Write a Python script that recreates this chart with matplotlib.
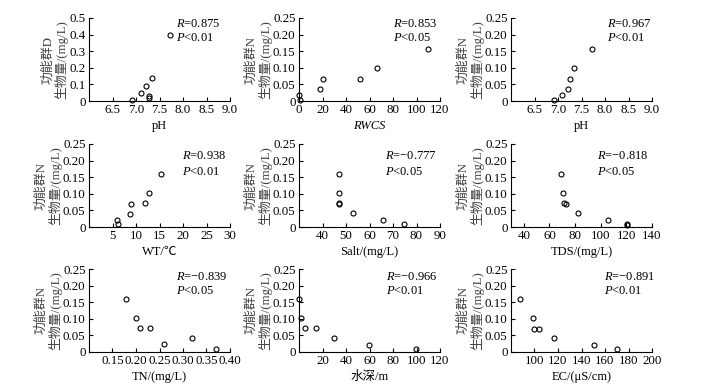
import matplotlib
matplotlib.use("Agg")
import matplotlib.pyplot as plt
from matplotlib.ticker import FixedLocator, FixedFormatter

plt.rcParams['font.family'] = ['Liberation Serif', 'Noto Sans CJK SC']
plt.rcParams['mathtext.fontset'] = 'custom'
plt.rcParams['mathtext.it'] = 'Liberation Serif:italic'
plt.rcParams['mathtext.rm'] = 'Liberation Serif'

# ---- data ----
ph_d_x = [6.91, 7.10, 7.21, 7.27, 7.27, 7.33, 7.72]
ph_d_y = [0.004, 0.049, 0.093, 0.028, 0.020, 0.136, 0.400]

rwcs_x = [0.0, 0.5, 18.2, 20.5, 52.3, 66.0, 110.0]
rwcs_y = [0.018, 0.004, 0.037, 0.065, 0.066, 0.098, 0.156]

ph_n_x = [6.92, 7.09, 7.21, 7.26, 7.34, 7.72]
ph_n_y = [0.004, 0.019, 0.037, 0.065, 0.098, 0.156]

wt_x = [5.9, 6.1, 8.8, 9.0, 11.9, 12.7, 15.3]
wt_y = [0.022, 0.008, 0.040, 0.069, 0.071, 0.103, 0.160]

salt_x = [47.1, 47.1, 47.0, 47.2, 52.8, 65.9, 74.7]
salt_y = [0.160, 0.103, 0.071, 0.069, 0.041, 0.022, 0.008]

tds_x = [69.1, 70.6, 71.2, 73.2, 82.4, 105.4, 120.6, 120.6]
tds_y = [0.160, 0.103, 0.071, 0.068, 0.041, 0.022, 0.008, 0.005]

tn_x = [0.179, 0.199, 0.209, 0.229, 0.259, 0.320, 0.370]
tn_y = [0.160, 0.103, 0.071, 0.071, 0.023, 0.042, 0.008]

depth_x = [0.0, 2.0, 4.9, 14.6, 29.7, 59.7, 99.7]
depth_y = [0.160, 0.103, 0.071, 0.071, 0.042, 0.022, 0.008]

ec_x = [87.8, 98.9, 100.0, 103.7, 116.7, 150.4, 170.0]
ec_y = [0.160, 0.103, 0.069, 0.069, 0.042, 0.022, 0.008]

r_texts = ["0.875", "0.853", "0.967", "0.938", "\u22120.777", "\u22120.818",
           "\u22120.839", "\u22120.966", "\u22120.891"]
p_texts = ["0.01", "0.05", "0.01", "0.01", "0.05", "0.05", "0.05", "0.01", "0.01"]
xlabels = ["pH", "RWCS", "pH", "WT/\u2103", "Salt/(mg/L)", "TDS/(mg/L)",
           "TN/(mg/L)", "\u6c34\u6df1/m", "EC/(\u03bcS/cm)"]
groups = ["D", "N", "N", "N", "N", "N", "N", "N", "N"]

xticks = [
    [6.5, 7.0, 7.5, 8.0, 8.5, 9.0],
    [0, 20, 40, 60, 80, 100, 120],
    [6.5, 7.0, 7.5, 8.0, 8.5, 9.0],
    [5, 10, 15, 20, 25, 30],
    [40, 50, 60, 70, 80, 90],
    [40, 60, 80, 100, 120, 140],
    [0.15, 0.20, 0.25, 0.30, 0.35, 0.40],
    [20, 40, 60, 80, 100, 120],
    [100, 120, 140, 160, 180, 200],
]
xticklabels = [
    ["6.5", "7.0", "7.5", "8.0", "8.5", "9.0"],
    ["0", "20", "40", "60", "80", "100", "120"],
    ["6.5", "7.0", "7.5", "8.0", "8.5", "9.0"],
    ["5", "10", "15", "20", "25", "30"],
    ["40", "50", "60", "70", "80", "90"],
    ["40", "60", "80", "100", "120", "140"],
    ["0.15", "0.20", "0.25", "0.30", "0.35", "0.40"],
    ["20", "40", "60", "80", "100", "120"],
    ["100", "120", "140", "160", "180", "200"],
]
xlims = [(6.0, 9.0), (0, 120), (6.0, 9.0), (0, 30), (30, 90), (30, 140),
         (0.10, 0.40), (0, 120), (80, 200)]

yticks_a = [0, 0.1, 0.2, 0.3, 0.4, 0.5]
yticklabels_a = ["0", "0.1", "0.2", "0.3", "0.4", "0.5"]
yticks_b = [0, 0.05, 0.10, 0.15, 0.20, 0.25]
yticklabels_b = ["0", "0.05", "0.10", "0.15", "0.20", "0.25"]

xs = [ph_d_x, rwcs_x, ph_n_x, wt_x, salt_x, tds_x, tn_x, depth_x, ec_x]
ys = [ph_d_y, rwcs_y, ph_n_y, wt_y, salt_y, tds_y, tn_y, depth_y, ec_y]

# ---- layout ----
W, H = 726, 389
fig = plt.figure(figsize=(W / 100, H / 100), dpi=100)
col_left = [89, 299, 511]
row_top = [18, 144, 269]
aw, ah = 141, 83
text_x = [0.62, 0.67, 0.68, 0.66, 0.61, 0.61, 0.62, 0.62, 0.66]
r_y = [0.93, 0.93, 0.93, 0.855, 0.855, 0.855, 0.90, 0.90, 0.90]
p_y = [0.76, 0.76, 0.76, 0.66, 0.66, 0.66, 0.735, 0.735, 0.735]

tfs = 9.3
for i in range(9):
    r, c = divmod(i, 3)
    ax = fig.add_axes([col_left[c] / W, 1 - (row_top[r] + ah) / H, aw / W, ah / H])
    ax.plot(xs[i], ys[i], 'o', mfc='none', mec='black', ms=3.6, mew=0.8,
            clip_on=False)
    ax.set_xlim(*xlims[i])
    if i == 0:
        ax.set_ylim(0, 0.5)
        ax.yaxis.set_major_locator(FixedLocator(yticks_a))
        ax.yaxis.set_major_formatter(FixedFormatter(yticklabels_a))
    else:
        ax.set_ylim(0, 0.25)
        ax.yaxis.set_major_locator(FixedLocator(yticks_b))
        ax.yaxis.set_major_formatter(FixedFormatter(yticklabels_b))
    ax.xaxis.set_major_locator(FixedLocator(xticks[i]))
    ax.xaxis.set_major_formatter(FixedFormatter(xticklabels[i]))
    for s in ['top', 'right']:
        ax.spines[s].set_visible(False)
    for s in ['left', 'bottom']:
        ax.spines[s].set_linewidth(0.8)
    ax.tick_params(direction='in', length=3, width=0.8, labelsize=tfs, pad=2.5,
                   colors='black')
    if i == 1:
        ax.set_xlabel(xlabels[i], fontsize=9, style='italic', labelpad=2.5)
    else:
        ax.set_xlabel(xlabels[i], fontsize=9, labelpad=2.5)
    ax.set_ylabel("\u529f\u80fd\u7fa4" + groups[i] + "\n\u751f\u7269\u91cf/(mg/L)",
                  fontsize=tfs, labelpad=0.5, linespacing=1.05, color='#444444')
    ax.text(text_x[i], r_y[i], r"$\mathit{R}$=" + r_texts[i], transform=ax.transAxes,
            fontsize=9, va='center', ha='left')
    ax.text(text_x[i], p_y[i], r"$\mathit{P}$<" + p_texts[i], transform=ax.transAxes,
            fontsize=9, va='center', ha='left')

fig.savefig("out.png", dpi=100)
